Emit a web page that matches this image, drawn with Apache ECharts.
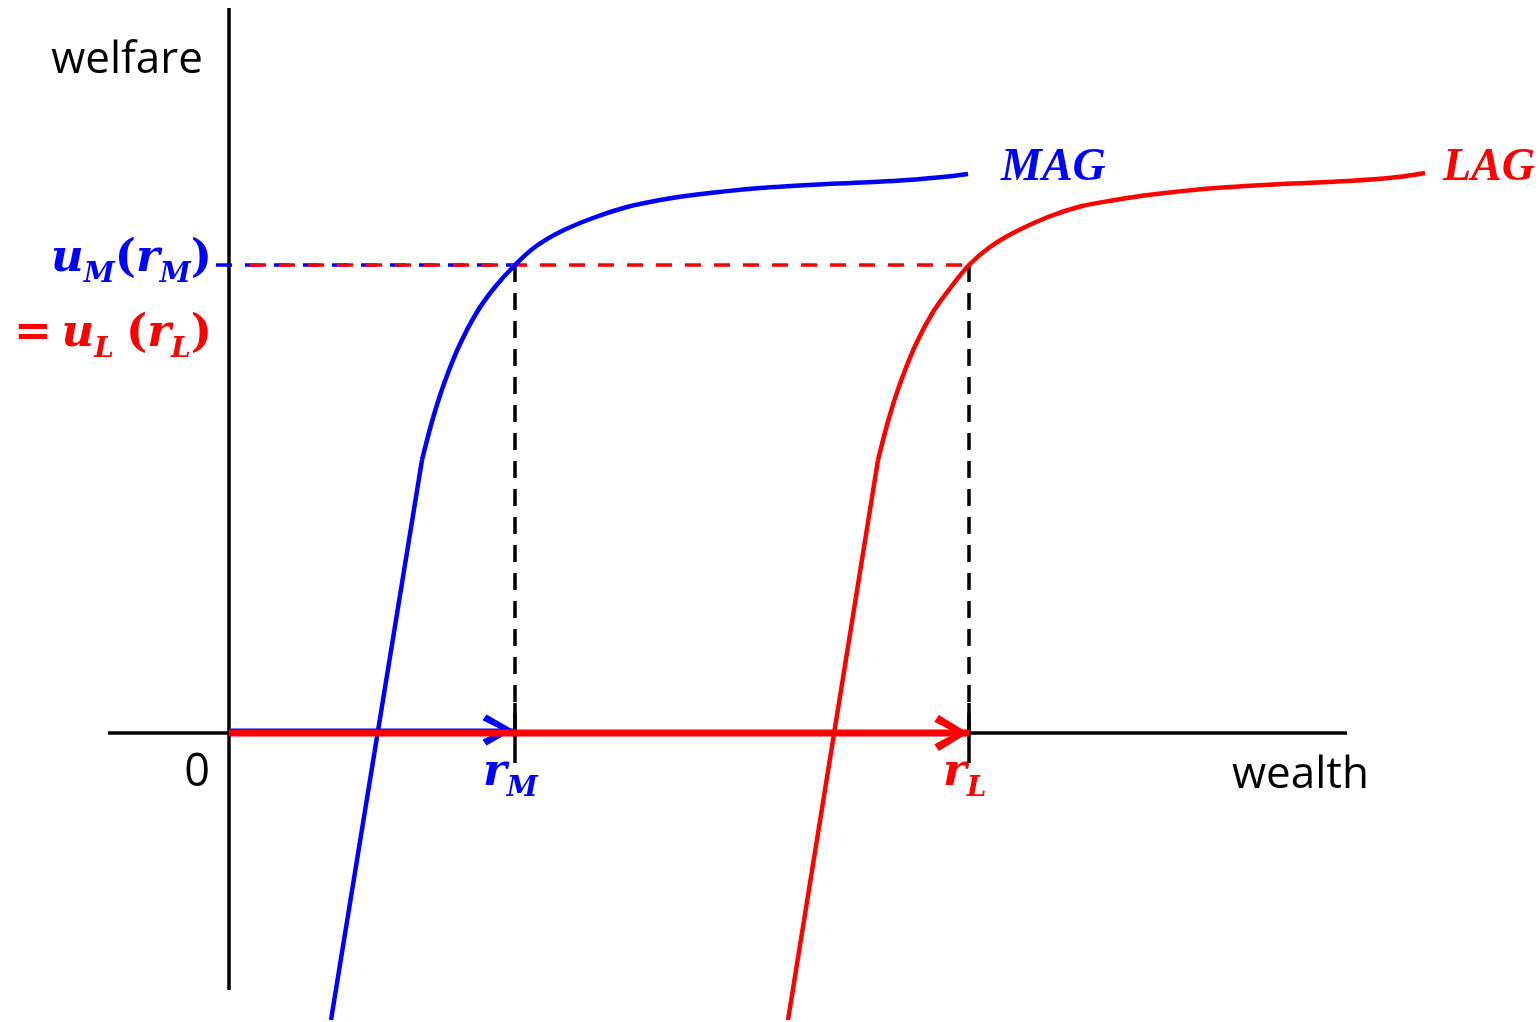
<!DOCTYPE html>
<html><head><meta charset="utf-8">
<script src="https://cdn.jsdelivr.net/npm/echarts@6/dist/echarts.min.js"></script>
<style>html,body{margin:0;padding:0;background:#fff}#c{width:1540px;height:1022px}</style>
</head><body><div id="c"></div>
<script>
// ---- data (wealth / welfare units) ----
const magX = [1.02, 1.93, 2.04, 2.16, 2.31, 2.48, 2.66, 2.86, 3.06, 3.31, 3.64, 3.98, 4.31, 4.64, 5.31, 5.98, 6.64, 7.14, 7.39];
const magY = [-2.87, 2.73, 3.15, 3.52, 3.89, 4.21, 4.46, 4.68, 4.86, 5.01, 5.15, 5.26, 5.33, 5.38, 5.45, 5.49, 5.52, 5.56, 5.59];
const lagX = [5.59, 6.49, 6.60, 6.72, 6.87, 7.04, 7.22, 7.40, 7.61, 7.86, 8.19, 8.53, 8.86, 9.19, 9.86, 10.53, 11.19, 11.69, 11.96];
const lagY = [-2.87, 2.73, 3.15, 3.52, 3.89, 4.21, 4.46, 4.68, 4.86, 5.01, 5.16, 5.27, 5.33, 5.38, 5.45, 5.49, 5.52, 5.56, 5.60];
const rM = 2.86, rL = 7.40, uStar = 4.68;
const wealthAxisExtent = [-1.21, 11.18];
const welfareAxisExtent = [-2.57, 7.25];
const blueDashStart = -0.13, redDashStart = 0.21;
const xView = [-2.29, 13.11];
const yView = [-2.89, 7.33];
const curveLabels = ['MAG', 'LAG'];
const axisNames = ['wealth', 'welfare'];
const originLabel = '0';

const BLUE = '#0000FF', RED = '#FF0000', BLACK = '#000000';
const pairs = (xs, ys) => xs.map((x, i) => [x, ys[i]]);
const mag = pairs(magX, magY), lag = pairs(lagX, lagY);
const chevron = 'path://M4,0 L30,16 L4,32 L0,26 L19,16 L0,6 Z';

const chart = echarts.init(document.getElementById('c'), null, {renderer: 'canvas'});
const pxPerUnitY = 1022 / (yView[1] - yView[0]);
const tick = 30 / pxPerUnitY;
const lift = 3 / pxPerUnitY;

function seg(data, color, width, dash, z, extra) {
  return Object.assign({
    type: 'line', data: data, symbol: 'none', smooth: false, z: z || 2,
    lineStyle: {color: color, width: width, type: dash || 'solid', cap: 'butt'},
    silent: true, animation: false
  }, extra || {});
}
const smoothOpt = {smooth: 0.3};

const series = [
  // axes
  seg([[0, welfareAxisExtent[0]], [0, welfareAxisExtent[1]]], BLACK, 3.5, 'solid', 3),
  seg([[wealthAxisExtent[0], 0], [wealthAxisExtent[1], 0]], BLACK, 3.5, 'solid', 3),
  // dashed guides
  seg([[rM, uStar], [rM, 0]], BLACK, 3.5, [17, 11], 3),
  seg([[rL, uStar], [rL, 0]], BLACK, 3.5, [17, 11], 3),
  seg([[blueDashStart, uStar], [rM, uStar]], BLUE, 3.5, [16, 13], 3),
  seg([[redDashStart, uStar], [rL, uStar]], RED, 3.5, [16, 13], 4),
  // ticks
  seg([[rM, tick], [rM, -tick]], BLACK, 3.5, 'solid', 6),
  seg([[rL, tick], [rL, -tick]], BLACK, 3.5, 'solid', 6),
  // curves
  seg(mag.slice(0, 2), BLUE, 4.5, 'solid', 5),
  seg(mag.slice(1), BLUE, 4.5, 'solid', 5, smoothOpt),
  seg(lag.slice(0, 2), RED, 4.5, 'solid', 5),
  seg(lag.slice(1), RED, 4.5, 'solid', 5, smoothOpt),
  // arrows
  {
    type: 'line', z: 7, silent: true, animation: false, showSymbol: true,
    lineStyle: {color: BLUE, width: 3},
    itemStyle: {color: BLUE},
    data: [{value: [0, lift], symbol: 'none'},
           {value: [rM, lift], symbol: chevron, symbolSize: [31, 31], symbolOffset: ['-55%', 0]}]
  },
  {
    type: 'line', z: 8, silent: true, animation: false, showSymbol: true,
    lineStyle: {color: RED, width: 7},
    itemStyle: {color: RED},
    data: [{value: [0, 0], symbol: 'none'},
           {value: [rL, 0], symbol: chevron, symbolSize: [34, 36], symbolOffset: ['-52%', 0]}]
  }
];

chart.setOption({
  animation: false,
  backgroundColor: '#fff',
  grid: {left: 0, right: 0, top: 0, bottom: 0},
  xAxis: {type: 'value', min: xView[0], max: xView[1], show: false},
  yAxis: {type: 'value', min: yView[0], max: yView[1], show: false},
  series: series
});

const P = (x, y) => chart.convertToPixel({gridIndex: 0}, [x, y]);
const [ox, oy] = P(0, 0);
const [, topPx] = P(0, welfareAxisExtent[1]);
const [axRight] = P(wealthAxisExtent[1], 0);
const [magEx, magEy] = P(magX[magX.length - 1], magY[magY.length - 1]);
const [lagEx, lagEy] = P(lagX[lagX.length - 1], lagY[lagY.length - 1]);
const [rMx] = P(rM, 0), [rLx] = P(rL, 0);
const [, uPy] = P(0, uStar);

const sans = '"Open Sans", "Noto Sans", sans-serif';
const serif = '"Liberation Serif", serif';
const mserif = '"DejaVu Serif", "Liberation Serif", serif';
const mathRich = (color) => ({
  b: {fontFamily: mserif, fontSize: 45, fontWeight: 'bold', fontStyle: 'italic', fill: color, lineHeight: 60, verticalAlign: 'middle'},
  p: {fontFamily: mserif, fontSize: 45, fontWeight: 'bold', fontStyle: 'normal', fill: color, lineHeight: 60, verticalAlign: 'middle'},
  e: {fontFamily: mserif, fontSize: 45, fontWeight: 'bold', fontStyle: 'normal', fill: color, lineHeight: 60, verticalAlign: 'middle', padding: [0, 10, 0, 0]},
  s: {fontFamily: mserif, fontSize: 28, fontWeight: 'bold', fontStyle: 'italic', fill: color, lineHeight: 30, verticalAlign: 'bottom'},
  sp: {fontFamily: mserif, fontSize: 28, fontWeight: 'bold', fontStyle: 'italic', fill: color, lineHeight: 30, verticalAlign: 'bottom', padding: [0, 12, 0, 0]}
});
const txt = (x, y, text, align, style) => ({
  type: 'text', x: x, y: y, silent: true,
  style: Object.assign({text: text, align: align, verticalAlign: 'middle'}, style)
});

chart.setOption({
  graphic: [
    txt(ox - 26, topPx + 52, axisNames[1], 'right', {fontFamily: sans, fontSize: 44, fill: BLACK}),
    txt(axRight + 22, oy + 42, axisNames[0], 'right', {fontFamily: sans, fontSize: 44, fill: BLACK}),
    txt(ox - 32, oy + 40, originLabel, 'center', {fontFamily: sans, fontSize: 45, fill: BLACK}),
    txt(magEx + 33, magEy - 6, curveLabels[0], 'left', {fontFamily: serif, fontSize: 46, fontWeight: 'bold', fontStyle: 'italic', fill: BLUE}),
    txt(lagEx + 18, lagEy - 5, curveLabels[1], 'left', {fontFamily: serif, fontSize: 46, fontWeight: 'bold', fontStyle: 'italic', fill: RED}),
    txt(ox - 17, uPy - 6, '{b|u}{s|M}{p|(}{b|r}{s|M}{p|)}', 'right', {rich: mathRich(BLUE)}),
    txt(ox - 17, uPy + 69, '{e|=}{b|u}{sp|L}{p|(}{b|r}{s|L}{p|)}', 'right', {rich: mathRich(RED)}),
    txt(rMx - 32, oy + 40, '{b|r}{s|M}', 'left', {rich: mathRich(BLUE)}),
    txt(rLx - 26, oy + 40, '{b|r}{s|L}', 'left', {rich: mathRich(RED)})
  ]
});
</script>
</body></html>
